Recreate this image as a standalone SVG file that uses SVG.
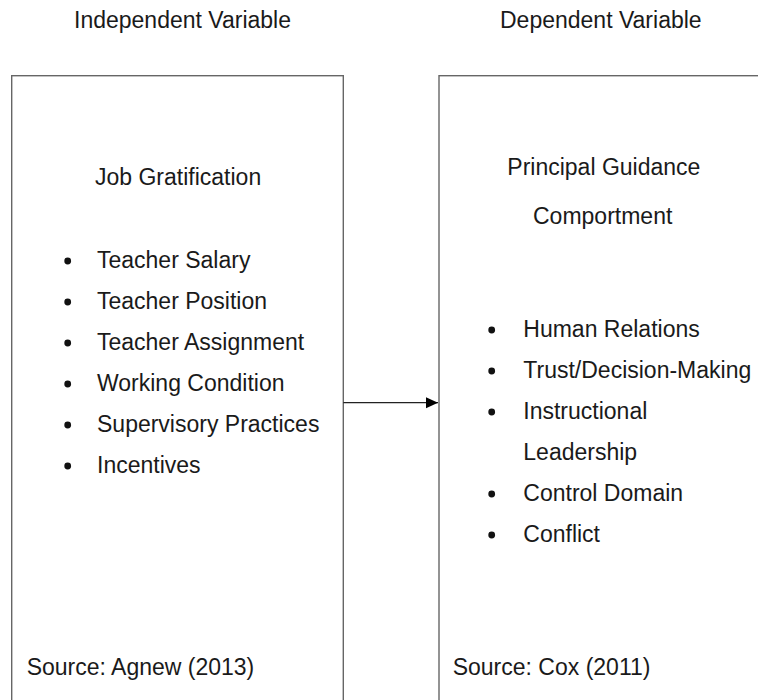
<svg xmlns="http://www.w3.org/2000/svg" width="758" height="700" viewBox="0 0 758 700">
<style>
text{font-family:"Liberation Sans",Arial,sans-serif;font-size:23px;fill:#1a1a1a}
.box{fill:none;stroke:#666;stroke-width:1.4}
.b{fill:#111}
</style>
<defs>
<marker id="ah" markerWidth="12" markerHeight="12" refX="12" refY="6" orient="auto" markerUnits="userSpaceOnUse">
<path d="M0,0.5 L12,6 L0,11.5 Z" fill="#000"/>
</marker>
</defs>
<rect width="758" height="700" fill="#fff"/>
<text x="74" y="28">Independent Variable</text>
<text x="500" y="28">Dependent Variable</text>
<g id="independent">
<rect class="box" x="11.7" y="75.7" width="331.6" height="640"/>
<text x="95" y="185">Job Gratification</text>
<circle class="b" cx="67.7" cy="261" r="3.4"/><text x="97" y="268">Teacher Salary</text>
<circle class="b" cx="67.7" cy="302" r="3.4"/><text x="97" y="309">Teacher Position</text>
<circle class="b" cx="67.7" cy="343" r="3.4"/><text x="97" y="350">Teacher Assignment</text>
<circle class="b" cx="67.7" cy="384" r="3.4"/><text x="97" y="391">Working Condition</text>
<circle class="b" cx="67.7" cy="425" r="3.4"/><text x="97" y="432">Supervisory Practices</text>
<circle class="b" cx="67.7" cy="466" r="3.4"/><text x="97" y="473">Incentives</text>
<text x="26.7" y="675">Source: Agnew (2013)</text>
</g>
<g id="dependent">
<rect class="box" x="439" y="75.7" width="340" height="640"/>
<text x="507.3" y="175">Principal Guidance</text>
<text x="533" y="224">Comportment</text>
<circle class="b" cx="491.7" cy="330" r="3.4"/><text x="523.3" y="337">Human Relations</text>
<circle class="b" cx="491.7" cy="371" r="3.4"/><text x="523.3" y="378">Trust/Decision-Making</text>
<circle class="b" cx="491.7" cy="412" r="3.4"/><text x="523.3" y="419">Instructional</text>
<text x="523.3" y="460">Leadership</text>
<circle class="b" cx="491.7" cy="494" r="3.4"/><text x="523.3" y="501">Control Domain</text>
<circle class="b" cx="491.7" cy="535" r="3.4"/><text x="523.3" y="542">Conflict</text>
<text x="452.7" y="675">Source: Cox (2011)</text>
</g>
<g id="connectors">
<line x1="343.3" y1="402.7" x2="438" y2="402.7" stroke="#222" stroke-width="1.2" marker-end="url(#ah)"/>
</g>
</svg>
